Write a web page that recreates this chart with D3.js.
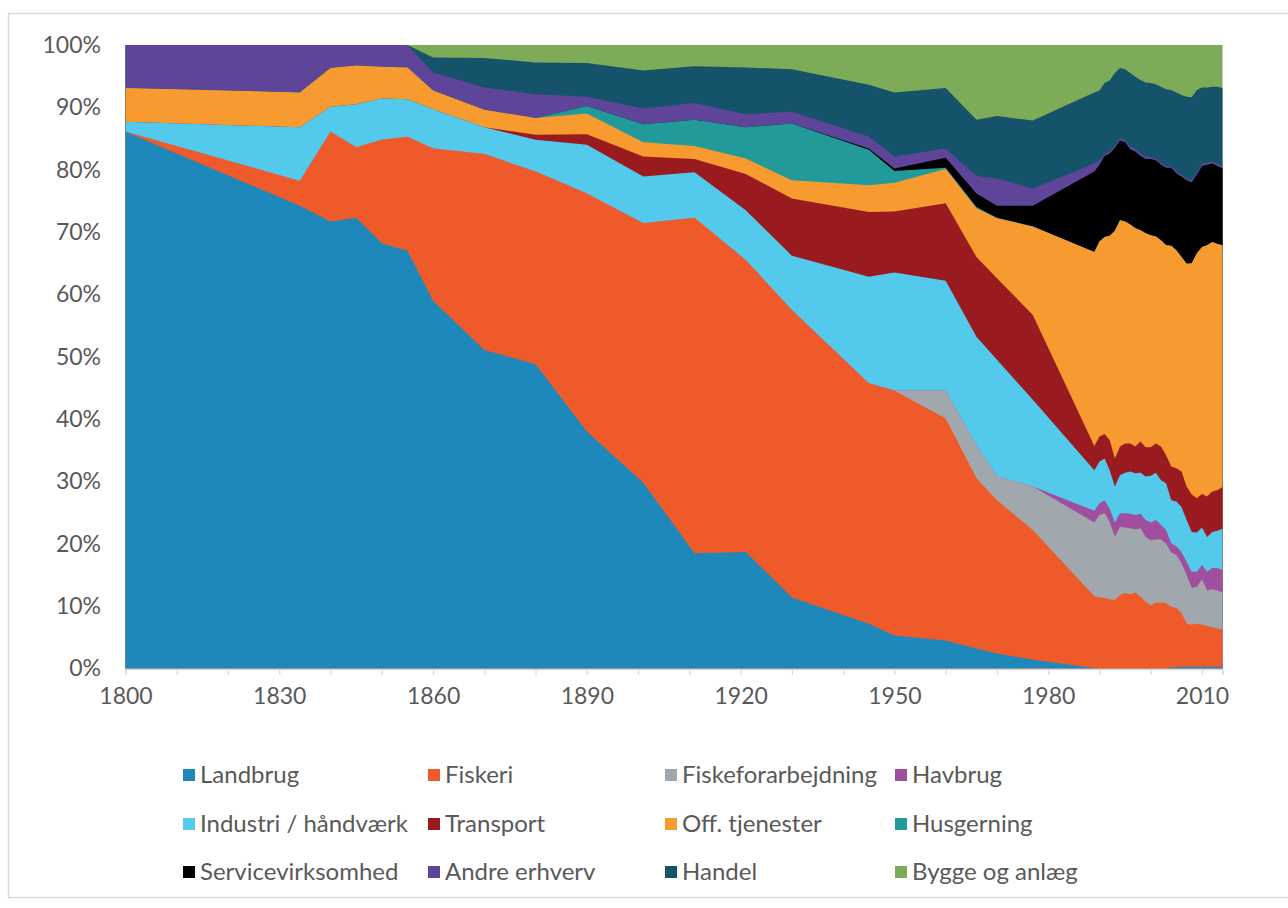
<!DOCTYPE html>
<html lang="da">

<head>
    <meta charset="UTF-8">
    <script src="https://d3js.org/d3.v7.min.js"></script>
    <title>Erhvervsfordeling</title>
    <style>
        body { margin: 0; background: #fff; }
        text { font-family: Lato, "Open Sans", sans-serif; fill: #595959; }
    </style>
</head>

<body>
    <script>
        // Years of the observations
        var years = [1800, 1834, 1840, 1845, 1850, 1855, 1860, 1870, 1880, 1890, 1901, 1911, 1921, 1930,
            1945, 1950, 1960, 1966, 1970, 1977,
            1989, 1990, 1991, 1992, 1993, 1994, 1995, 1996, 1997, 1998, 1999, 2000, 2001,
            2002, 2003, 2004, 2005, 2006, 2007, 2008, 2009, 2010, 2011, 2012, 2013, 2014];

        // Share of employment per sector (%)
        var landbrug = [86.1, 74.2, 71.7, 72.3, 68.2, 67.0, 59.0, 51.1, 48.8, 38.0, 29.8, 18.5, 18.7, 11.4,
            7.2, 5.3, 4.5, 3.2, 2.4, 1.4,
            0.1, 0, 0, 0, 0, 0, 0, 0, 0, 0, 0, 0, 0,
            0, 0, 0.2, 0.2, 0.3, 0.3, 0.3, 0.3, 0.3, 0.3, 0.3, 0.3, 0.3];
        var fiskeri = [0, 4.0, 14.4, 11.3, 16.6, 18.3, 24.4, 31.4, 30.9, 38.2, 41.6, 53.8, 46.8, 46.1,
            38.6, 39.3, 35.6, 27.3, 24.6, 20.8,
            11.5, 11.4, 11.3, 11.1, 11.0, 11.8, 12.1, 11.9, 12.2, 11.5, 10.7, 10.1, 10.6,
            10.6, 10.5, 9.7, 9.5, 8.6, 6.9, 6.7, 6.9, 6.7, 6.5, 6.3, 6.1, 6.0];
        var fiskeforarbejdning = [0, 0, 0, 0, 0, 0, 0, 0, 0, 0, 0, 0, 0, 0,
            0, 0, 4.5, 5.3, 3.8, 7.0,
            11.8, 13.2, 13.6, 12.4, 10.1, 10.9, 10.5, 10.6, 10.1, 11.0, 10.4, 10.5, 10.1,
            10.1, 9.5, 8.7, 8.5, 8.0, 7.8, 5.9, 5.9, 7.3, 5.7, 6.1, 6.1, 5.9];
        var havbrug = [0, 0, 0, 0, 0, 0, 0, 0, 0, 0, 0, 0, 0, 0,
            0, 0, 0, 0, 0, 0,
            1.9, 1.9, 2.1, 2.1, 2.3, 2.2, 2.3, 2.3, 2.3, 2.3, 2.7, 2.8, 3.1,
            2.3, 2.2, 1.5, 1.4, 1.8, 2.1, 2.6, 2.4, 2.3, 3.0, 3.4, 3.6, 3.6];
        var industri = [1.6, 8.6, 4.0, 6.9, 6.6, 6.0, 6.3, 4.3, 5.1, 7.8, 7.5, 7.3, 8.0, 8.7,
            17.1, 18.9, 17.6, 17.4, 18.7, 13.9,
            6.5, 6.7, 6.7, 6.2, 5.8, 6.1, 6.5, 6.8, 6.7, 6.6, 7.0, 7.5, 7.6,
            7.2, 7.5, 6.9, 7.2, 7.2, 6.7, 6.4, 6.3, 6.0, 5.6, 5.8, 6.0, 6.6];
        var transport = [0, 0, 0, 0, 0, 0, 0, 0, 0.8, 1.7, 3.2, 2.1, 5.8, 9.2,
            10.4, 9.8, 12.4, 12.8, 13.1, 13.6,
            3.9, 4.0, 3.9, 4.8, 4.5, 4.6, 4.7, 4.5, 4.3, 5.0, 4.7, 4.6, 4.7,
            5.4, 4.5, 5.4, 5.3, 5.7, 5.4, 6.0, 5.5, 5.4, 6.5, 6.5, 6.5, 6.7];
        var offTjenester = [5.4, 5.6, 6.2, 6.2, 5.1, 5.1, 3.0, 2.8, 2.7, 3.3, 2.3, 2.1, 2.5, 2.9,
            4.3, 4.6, 5.5, 7.8, 9.6, 14.2,
            31.1, 31.3, 31.6, 32.8, 36.5, 36.3, 35.6, 35.1, 35.0, 33.9, 34.3, 34.0, 33.2,
            33.1, 33.7, 35.4, 35.0, 34.4, 35.7, 37.1, 39.3, 39.6, 40.3, 40.0, 39.5, 38.8];
        var husgerning = [0, 0, 0, 0, 0, 0, 0, 0, 0, 1.2, 2.9, 4.2, 5.0, 9.1,
            5.7, 1.9, 0.2, 0.2, 0.1, 0,
            0, 0, 0, 0, 0, 0, 0, 0, 0, 0, 0, 0, 0,
            0, 0, 0, 0, 0, 0, 0, 0, 0, 0, 0, 0, 0];
        var service = [0, 0, 0, 0, 0, 0, 0, 0, 0, 0, 0, 0, 0, 0,
            0.2, 0.4, 1.6, 2.2, 1.9, 3.3,
            12.9, 12.3, 13.0, 13.2, 13.3, 12.8, 12.7, 12.1, 12.3, 11.9, 11.9, 12.2, 12.2,
            12.1, 12.4, 12.5, 12.3, 12.9, 13.4, 13.0, 12.6, 13.0, 12.9, 12.6, 12.5, 12.3];
        var andre = [6.9, 7.6, 3.7, 3.3, 3.5, 3.6, 2.9, 3.6, 3.8, 1.5, 2.5, 2.7, 2.1, 1.9,
            1.9, 1.9, 1.5, 2.8, 4.4, 2.8,
            1.3, 0.7, 0.3, 0.3, 0.3, 0.3, 0.3, 0.4, 0.4, 0.4, 0.4, 0.3, 0.3,
            0.3, 0.3, 0.3, 0.3, 0.3, 0.3, 0.3, 0.3, 0.3, 0.3, 0.3, 0.3, 0.3];
        var handel = [0, 0, 0, 0, 0, 0, 2.4, 4.7, 5.1, 5.4, 6.1, 5.9, 7.5, 6.8,
            8.3, 10.3, 9.7, 9.0, 10.0, 10.9,
            11.4, 11.2, 11.4, 11.4, 11.7, 11.3, 11.4, 11.8, 11.6, 11.8, 11.9, 11.9, 11.9,
            12.2, 12.3, 12.2, 12.7, 12.8, 13.1, 13.3, 13.3, 12.3, 12.1, 12.0, 12.4, 12.6];
        var bygge = [0, 0, 0, 0, 0, 0, 2.0, 2.1, 2.8, 2.9, 4.1, 3.4, 3.6, 3.9,
            6.4, 7.6, 6.9, 12.0, 11.4, 12.1,
            7.6, 7.3, 6.1, 5.7, 4.5, 3.7, 3.9, 4.5, 5.1, 5.6, 6.0, 6.1, 6.3,
            6.7, 7.1, 7.2, 7.6, 8.0, 8.3, 8.4, 7.2, 6.8, 6.8, 6.7, 6.7, 6.9];

        var seriesNames = ["Landbrug", "Fiskeri", "Fiskeforarbejdning", "Havbrug",
            "Industri / håndværk", "Transport", "Off. tjenester", "Husgerning",
            "Servicevirksomhed", "Andre erhverv", "Handel", "Bygge og anlæg"];
        var seriesValues = [landbrug, fiskeri, fiskeforarbejdning, havbrug, industri, transport,
            offTjenester, husgerning, service, andre, handel, bygge];
        var colors = ["#1f88bb", "#ef5a2a", "#a0a8ad", "#a04f9f", "#53c9ec", "#991b20",
            "#f79b30", "#229a99", "#000000", "#5e4599", "#14536a", "#7eab58"];

        var xTicks = d3.range(1800, 2011, 10);
        var yTicks = d3.range(0, 11).map(function (i) { return i / 10; });

        // Build rows for the stack
        var rows = years.map(function (yr, i) {
            var r = { year: yr };
            seriesNames.forEach(function (name, k) { r[name] = seriesValues[k][i]; });
            return r;
        });

        var stack = d3.stack().keys(seriesNames).offset(d3.stackOffsetExpand);
        var layers = stack(rows);

        var width = 1288, height = 908;
        var svg = d3.select("body").append("svg")
            .attr("width", width)
            .attr("height", height);

        // Chart border
        svg.append("rect")
            .attr("x", 8.5).attr("y", 13.5)
            .attr("width", 1300).attr("height", 884)
            .attr("fill", "none")
            .attr("stroke", "#d9d9d9")
            .attr("stroke-width", 1.5);

        var x = d3.scaleLinear().domain([1800, 2014]).range([125.5, 1222.5]);
        var y = d3.scaleLinear().domain([0, 1]).range([668.5, 45]);

        // Paint cumulative areas from the top layer down, so no seams show
        var area = d3.area()
            .x(function (d) { return x(d.data.year); })
            .y0(y(0))
            .y1(function (d) { return y(d[1]); });

        svg.append("g").selectAll("path")
            .data(layers.slice().reverse())
            .enter().append("path")
            .attr("fill", function (d) { return colors[d.index]; })
            .attr("d", area);

        // X axis
        var xAxis = svg.append("g")
            .attr("transform", "translate(0,669)")
            .call(d3.axisBottom(x)
                .tickValues(xTicks)
                .tickFormat(function (d) { return (d - 1800) % 30 === 0 ? d : ""; })
                .tickSize(6)
                .tickPadding(13));
        xAxis.select(".domain").attr("stroke", "#d9d9d9").attr("stroke-width", 1.5);
        xAxis.selectAll(".tick line").attr("stroke", "#d9d9d9").attr("stroke-width", 1.2);
        xAxis.selectAll("text").attr("font-size", 23).attr("font-family", null).attr("fill", "#595959");

        // Y axis
        var yAxis = svg.append("g")
            .attr("transform", "translate(125,0)")
            .call(d3.axisLeft(y)
                .tickValues(yTicks)
                .tickFormat(d3.format(".0%"))
                .tickSize(0)
                .tickPadding(24));
        yAxis.select(".domain").remove();
        yAxis.selectAll("text").attr("font-size", 23).attr("font-family", null).attr("fill", "#595959");

        // Legend
        var legendCols = [183, 428, 665, 895];
        var legendRows = [775, 824, 872];
        var legend = svg.append("g").selectAll("g")
            .data(seriesNames)
            .enter().append("g")
            .attr("transform", function (d, i) {
                return "translate(" + legendCols[i % 4] + "," + legendRows[Math.floor(i / 4)] + ")";
            });
        legend.append("rect")
            .attr("x", 0).attr("y", -6)
            .attr("width", 12).attr("height", 12)
            .attr("fill", function (d, i) { return colors[i]; });
        legend.append("text")
            .attr("x", 17).attr("dy", "0.35em")
            .attr("font-size", 24)
            .text(function (d) { return d; });
    </script>
</body>

</html>
